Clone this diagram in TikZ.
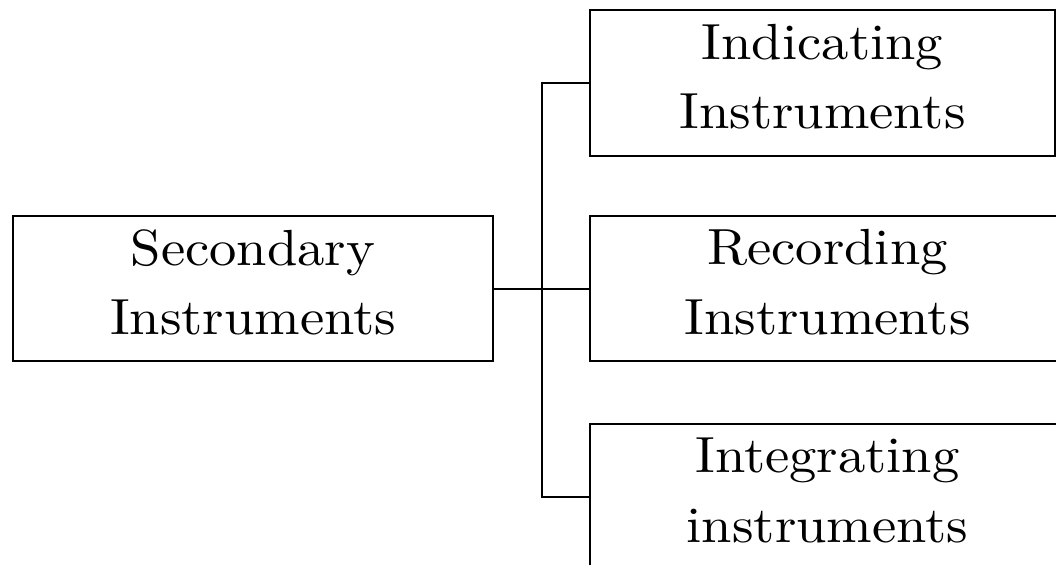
\documentclass[tikz,border=0pt]{standalone}
\usepackage{fontspec}
\newfontfamily\boxfont{lmroman10-regular.otf}[FakeStretch=1.075]
\begin{document}
\begin{tikzpicture}[x=1bp,y=-1bp,
  box/.style={draw=black, line width=2bp, inner sep=0pt, align=center,
    font=\boxfont\fontsize{51}{70}\selectfont,
    execute at end node={\rule[-13bp]{0pt}{13bp}}},
  link/.style={draw=black, line width=2bp}]
\useasboundingbox (0,0) rectangle (1056,565);
\node[box, minimum width=480bp, minimum height=145bp] (sec) at (253,288.5) {Secondary\\Instruments};
\node[box, minimum width=465bp, minimum height=146bp] (ind) at (822.5,83) {Indicating\\Instruments};
\node[box, minimum width=475bp, minimum height=145bp] (rec) at (827.5,288.5) {Recording\\Instruments};
\node[box, minimum width=475bp, minimum height=146bp] (int) at (827.5,496.5) {Integrating\\instruments};
\coordinate (hub) at (541.5,288.5);
\draw[link] (sec.east) -- (hub);
\draw[link] (hub) -- (rec.west);
\draw[link] (ind.west) -| (hub) |- (int.west);
\end{tikzpicture}
\end{document}
